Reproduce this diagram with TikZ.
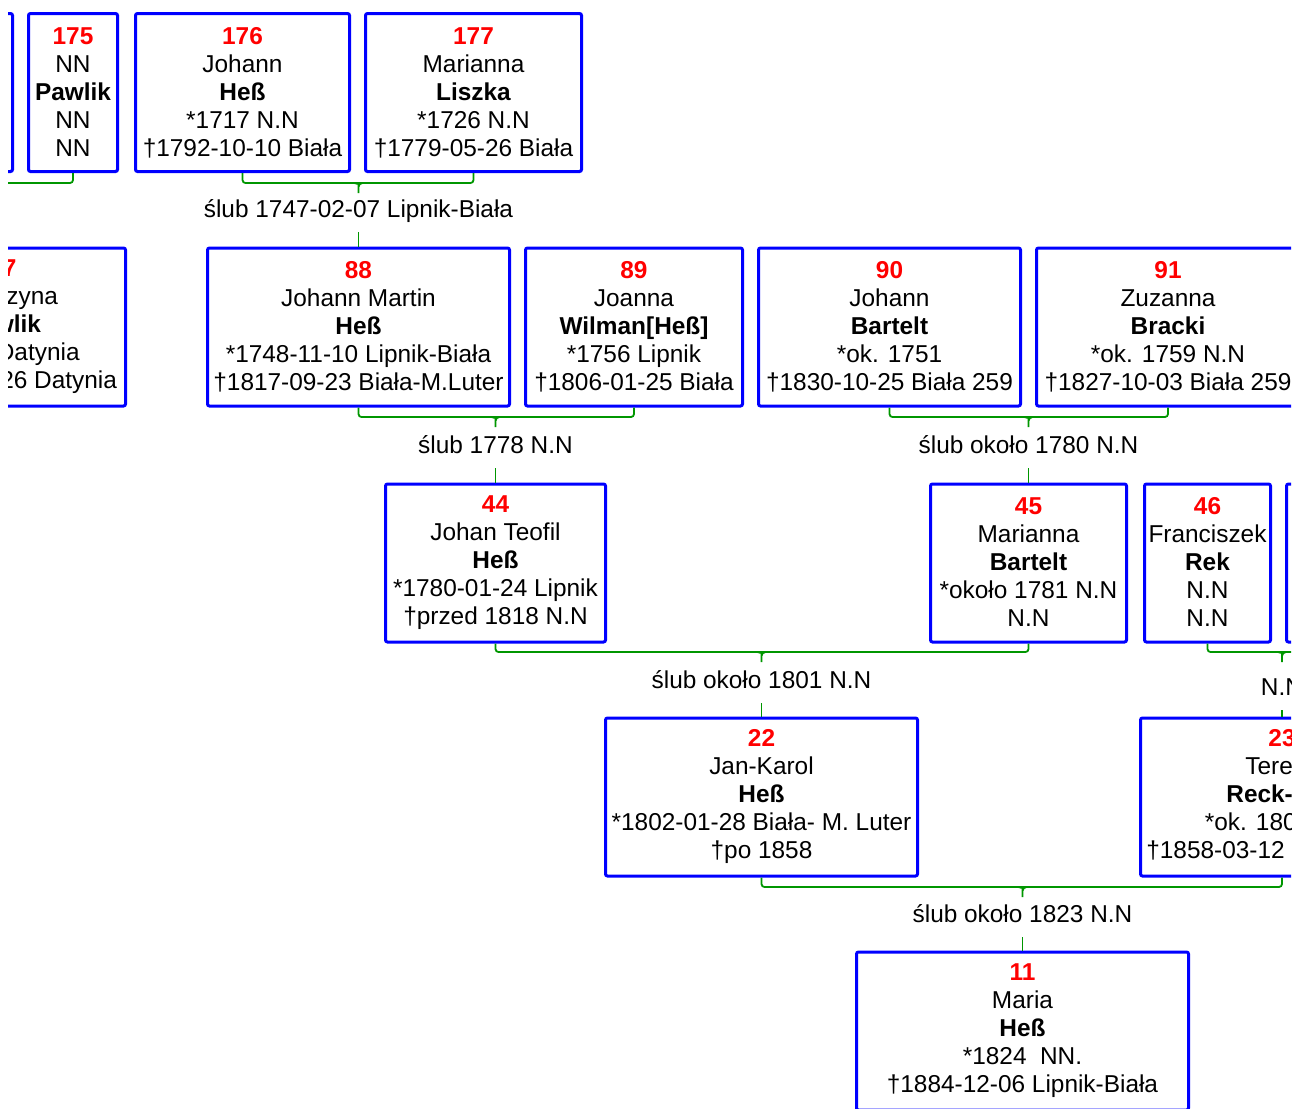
\documentclass[tikz,border=0pt]{standalone}
\usepackage{fontspec}
\setmainfont{Liberation Sans}
\definecolor{boxblue}{RGB}{0,0,255}
\definecolor{numred}{RGB}{255,0,0}
\definecolor{linegreen}{RGB}{0,150,0}
\newcommand{\nr}[1]{\textcolor{numred}{\textbf{#1}}}

\tikzset{
  person/.style={draw=boxblue, line width=1.5pt, rounded corners=1pt, align=center,
    minimum height=79pt, inner sep=0pt, font=\fontsize{12.2}{14}\selectfont,
    execute at end node={\vphantom{†}}},
  wedding/.style={anchor=base, inner xsep=2pt, inner ysep=5pt, text depth=2.5pt,
    font=\fontsize{12.2}{14}\selectfont},
  famline/.style={draw=linegreen, line width=0.9pt, rounded corners=1.5pt},
}

\begin{document}
\begin{tikzpicture}[x=0.5pt,y=-0.5pt]
\useasboundingbox (0,0) rectangle (1308,1109);
\clip (8,0) rectangle (1291,1109);

% generation 1
\node[person, minimum width=105.5pt] at (-93,92.5) (p174) {};
\node[person, minimum width=44.5pt] at (73,92.5) (p175) {\nr{175}\\NN\\\textbf{Pawlik}\\NN\\NN};
\node[person, minimum width=107pt] at (242.5,92.5) (p176) {\nr{176}\\Johann\\\textbf{Heß}\\*1717 N.N\\†1792-10-10 Biała};
\node[person, minimum width=108pt] at (473.5,92.5) (p177) {\nr{177}\\Marianna\\\textbf{Liszka}\\*1726 N.N\\†1779-05-26 Biała};

% generation 2
\node[person, minimum width=122.5pt] at (3,327) (p87) {\nr{87}\\Katarzyna\\\textbf{Pawlik}\\*1752 Datynia\\†1822-04-26 Datynia};
\node[person, minimum width=151pt] at (358.5,327) (p88) {\nr{88}\\Johann Martin\\\textbf{Heß}\\*1748-11-10 Lipnik-Biała\\†1817-09-23 Biała-M.Luter};
\node[person, minimum width=108.5pt] at (634,327) (p89) {\nr{89}\\Joanna\\\textbf{Wilman[Heß]}\\*1756 Lipnik\\†1806-01-25 Biała};
\node[person, minimum width=131pt] at (889.5,327) (p90) {\nr{90}\\Johann\\\textbf{Bartelt}\\*ok. 1751\\†1830-10-25 Biała 259};
\node[person, minimum width=131.5pt] at (1168,327) (p91) {\nr{91}\\Zuzanna\\\textbf{Bracki}\\*ok. 1759 N.N\\†1827-10-03 Biała 259};

% generation 3
\node[person, minimum width=110pt] at (495.5,563) (p44) {\nr{44}\\Johan Teofil\\\textbf{Heß}\\*1780-01-24 Lipnik\\†przed 1818 N.N};
\node[person, minimum width=98pt] at (1028.5,563) (p45) {\nr{45}\\Marianna\\\textbf{Bartelt}\\*około 1781 N.N\\N.N};
\node[person, minimum width=63pt] at (1207.5,563) (p46) {\nr{46}\\Franciszek\\\textbf{Rek}\\N.N\\N.N};
\node[person, minimum width=70pt] at (1356.5,563) (p47) {};

% generation 4
\node[person, minimum width=156pt] at (761.5,797) (p22) {\nr{22}\\Jan-Karol\\\textbf{Heß}\\*1802-01-28 Biała- M. Luter\\†po 1858};
\node[person, minimum width=141.5pt] at (1282,797) (p23) {\nr{23}\\Teresa\\\textbf{Reck-Rek}\\*ok. 1803 N.N\\†1858-03-12 Lipnik-Biała};

% generation 5
\node[person, minimum width=166pt] at (1022.5,1031) (p11) {\nr{11}\\Maria\\\textbf{Heß}\\*1824 \ NN.\\†1884-12-06 Lipnik-Biała};

% marriages
\coordinate (b0) at (-10,183);
\coordinate (b1) at (358.5,183);
\coordinate (b2) at (495.5,417);
\coordinate (b3) at (1028.5,417);
\coordinate (b4) at (761.5,652);
\coordinate (b5) at (1282,652);
\coordinate (b6) at (1022.5,887);

\draw[famline] (p175.south) |- (b0);
\draw[famline] (p176.south) |- (b1) -| (p177.south);
\draw[famline] (p88.south) |- (b2) -| (p89.south);
\draw[famline] (p90.south) |- (b3) -| (p91.south);
\draw[famline] (p44.south) |- (b4) -| (p45.south);
\draw[famline] (p46.south) |- (b5) -| (p47.south);
\draw[famline] (p22.south) |- (b6) -| (p23.south);

% brace tips
\draw[famline] (b1) ++(-4,0) to[out=0,in=90] ++(4,4) -- ++(0,6) (b1) ++(4,0) to[out=180,in=90] ++(-4,4);
\draw[famline] (b2) ++(-4,0) to[out=0,in=90] ++(4,4) -- ++(0,6) (b2) ++(4,0) to[out=180,in=90] ++(-4,4);
\draw[famline] (b3) ++(-4,0) to[out=0,in=90] ++(4,4) -- ++(0,6) (b3) ++(4,0) to[out=180,in=90] ++(-4,4);
\draw[famline] (b4) ++(-4,0) to[out=0,in=90] ++(4,4) -- ++(0,6) (b4) ++(4,0) to[out=180,in=90] ++(-4,4);
\draw[famline] (b5) ++(-4,0) to[out=0,in=90] ++(4,4) -- ++(0,6) (b5) ++(4,0) to[out=180,in=90] ++(-4,4);
\draw[famline] (b6) ++(-4,0) to[out=0,in=90] ++(4,4) -- ++(0,6) (b6) ++(4,0) to[out=180,in=90] ++(-4,4);

\node[wedding] at (358.5,217) (w1) {ślub 1747-02-07 Lipnik-Biała};
\node[wedding] at (495.5,453) (w2) {ślub 1778 N.N};
\node[wedding] at (1028.5,453) (w3) {ślub około 1780 N.N};
\node[wedding] at (761.5,688) (w4) {ślub około 1801 N.N};
\node[wedding] at (1282,695) (w5) {N.N};
\node[wedding] at (1022.5,922) (w6) {ślub około 1823 N.N};

\draw[famline] (w1) -- (p88);
\draw[famline] (w2) -- (p44);
\draw[famline] (w3) -- (p45);
\draw[famline] (w4) -- (p22);
\draw[famline] (w5) -- (p23);
\draw[famline] (w6) -- (p11);

\end{tikzpicture}
\end{document}
